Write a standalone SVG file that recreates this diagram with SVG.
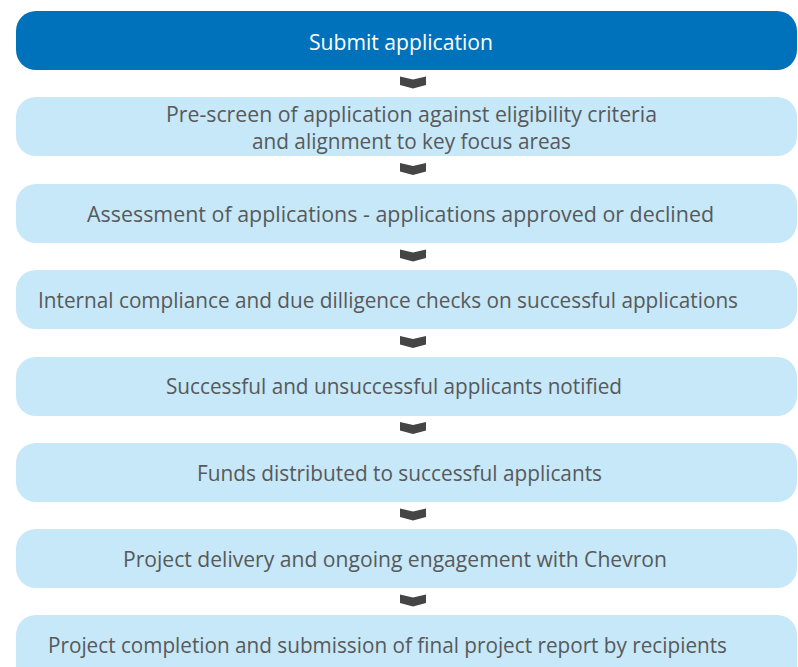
<svg xmlns="http://www.w3.org/2000/svg" width="798" height="667" viewBox="0 0 798 667">
<defs>
<style>
.box{fill:#c6e8f8}
.top{fill:#0071bb}
.t{font-family:"Open Sans","Noto Sans",sans-serif;font-size:21px;fill:#58595b;text-anchor:middle}
.w{fill:#ffffff}
.chev{fill:#454545}
</style>
<path id="chev" d="M400,0 L413,3 L426,0 L426,8.5 L413,12 L400,8.5 Z"/>
</defs>
<rect width="798" height="667" fill="#ffffff"/>
<g id="n1"><rect class="top" x="16" y="11" width="781" height="59" rx="20"/><text class="t w" x="401" y="50" textLength="184" lengthAdjust="spacingAndGlyphs">Submit application</text></g>
<g id="n2"><rect class="box" x="16" y="97" width="781" height="59" rx="20"/><text class="t" x="411.5" y="122" textLength="491" lengthAdjust="spacingAndGlyphs">Pre-screen of application against eligibility criteria</text><text class="t" x="411.5" y="149" textLength="319" lengthAdjust="spacingAndGlyphs">and alignment to key focus areas</text></g>
<g id="n3"><rect class="box" x="16" y="184" width="781" height="59" rx="20"/><text class="t" x="400.5" y="222" textLength="627" lengthAdjust="spacingAndGlyphs">Assessment of applications - applications approved or declined</text></g>
<g id="n4"><rect class="box" x="16" y="270" width="781" height="59" rx="20"/><text class="t" x="388" y="308" textLength="700" lengthAdjust="spacingAndGlyphs">Internal compliance and due dilligence checks on successful applications</text></g>
<g id="n5"><rect class="box" x="16" y="357" width="781" height="59" rx="20"/><text class="t" x="394" y="394" textLength="456" lengthAdjust="spacingAndGlyphs">Successful and unsuccessful applicants notified</text></g>
<g id="n6"><rect class="box" x="16" y="443" width="781" height="59" rx="20"/><text class="t" x="399.5" y="481" textLength="405" lengthAdjust="spacingAndGlyphs">Funds distributed to successful applicants</text></g>
<g id="n7"><rect class="box" x="16" y="529" width="781" height="59" rx="20"/><text class="t" x="395" y="567" textLength="544" lengthAdjust="spacingAndGlyphs">Project delivery and ongoing engagement with Chevron</text></g>
<g id="n8"><rect class="box" x="16" y="615" width="781" height="70" rx="20"/><text class="t" x="387.5" y="653" textLength="679" lengthAdjust="spacingAndGlyphs">Project completion and submission of final project report by recipients</text></g>
<g id="connectors" class="chev">
<use href="#chev" y="76.5"/>
<use href="#chev" y="163"/>
<use href="#chev" y="249.5"/>
<use href="#chev" y="336"/>
<use href="#chev" y="422"/>
<use href="#chev" y="508.5"/>
<use href="#chev" y="594.5"/>
</g>
</svg>
